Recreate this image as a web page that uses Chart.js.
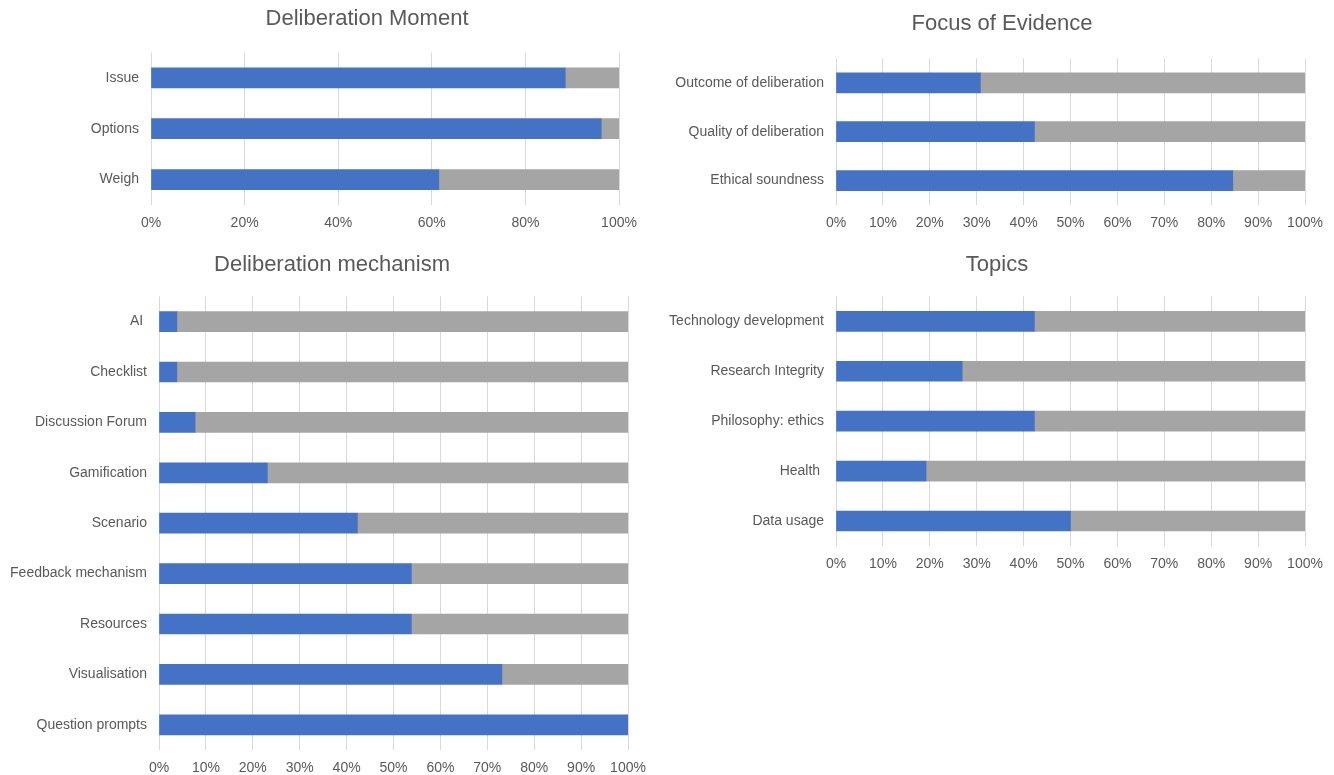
<!DOCTYPE html>
<html>
<head>
<meta charset="utf-8">
<title>Deliberation charts</title>
<script src="https://cdn.jsdelivr.net/npm/chart.js@4.4.1/dist/chart.umd.min.js"></script>
<style>
	body { margin: 0; background: #fff; width: 1334px; height: 775px; overflow: hidden; position: relative; }
	.chart-box { position: absolute; }
</style>
</head>
<body>
<div class="chart-box" style="left:0px; top:0px;"><canvas id="momentChart" width="660" height="240"></canvas></div>
<div class="chart-box" style="left:660px; top:0px;"><canvas id="evidenceChart" width="674" height="240"></canvas></div>
<div class="chart-box" style="left:0px; top:240px;"><canvas id="mechanismChart" width="660" height="535"></canvas></div>
<div class="chart-box" style="left:660px; top:240px;"><canvas id="topicsChart" width="674" height="340"></canvas></div>
<script>
// ================================ [ Data ] ================================

// Deliberation Moment
const momentLabels = ["Issue", "Options", "Weigh"];
const momentYes = [88.5, 96.2, 61.5];
const momentNo = [11.5, 3.8, 38.5];

// Focus of Evidence
const evidenceLabels = ["Outcome of deliberation", "Quality of deliberation", "Ethical soundness"];
const evidenceYes = [30.8, 42.3, 84.6];
const evidenceNo = [69.2, 57.7, 15.4];

// Deliberation mechanism
const mechanismLabels = ["AI ", "Checklist", "Discussion Forum", "Gamification", "Scenario",
	"Feedback mechanism", "Resources", "Visualisation", "Question prompts"];
const mechanismYes = [3.8, 3.8, 7.7, 23.1, 42.3, 53.8, 53.8, 73.1, 100];
const mechanismNo = [96.2, 96.2, 92.3, 76.9, 57.7, 46.2, 46.2, 26.9, 0];

// Topics
const topicsLabels = ["Technology development", "Research Integrity", "Philosophy: ethics", "Health ", "Data usage"];
const topicsYes = [42.3, 26.9, 42.3, 19.2, 50];
const topicsNo = [57.7, 73.1, 57.7, 80.8, 50];

// x axis tick steps (percent)
const momentStep = 20;
const otherStep = 10;

// ================================ [ Common ] ================================
const BLUE = "#4472C4";
const GREY = "#A5A5A5";
const TEXT = "#595959";
const FONT = "'Liberation Sans', Arial, Helvetica, sans-serif";

Chart.defaults.font.family = FONT;
Chart.defaults.color = TEXT;

// move the title centre to a given x (title is not centred on the canvas in the original)
const titleShift = {
	id: 'titleShift',
	afterLayout: (chart, args, opts) => {
		const t = chart.titleBlock;
		if(!t || opts.centerX === undefined) return;
		const w = t.right - t.left;
		t.left = opts.centerX - w / 2;
		t.right = opts.centerX + w / 2;
	}
};

// stacked horizontal percent bar
const getStackChart = (id, title, labels, yes, no, step, o) => {
	const el = document.getElementById(id);
	new Chart(el, {
		type: 'bar',
		data: {
			labels: labels,
			datasets: [
				{ label: 'Yes', data: yes, backgroundColor: BLUE, barThickness: 20, borderWidth: 0 },
				{ label: 'No', data: no, backgroundColor: GREY, barThickness: 20, borderWidth: 0 }
			]
		},
		options: {
			indexAxis: 'y',
			responsive: false,
			animation: false,
			devicePixelRatio: 1,
			layout: { padding: { left: 0, right: o.right, top: 0, bottom: o.bottom } },
			plugins: {
				legend: { display: false },
				tooltip: { enabled: false },
				title: {
					display: true,
					text: title,
					color: TEXT,
					font: { size: 22, weight: 'normal', family: FONT },
					padding: { top: o.titleTop, bottom: o.titleBottom }
				},
				titleShift: { centerX: o.titleX }
			},
			scales: {
				x: {
					stacked: true,
					min: 0,
					max: 100,
					grid: { color: '#D9D9D9', drawTicks: false },
					border: { display: false },
					ticks: {
						stepSize: step,
						padding: 10,
						color: TEXT,
						font: { size: 14 },
						callback: (v) => v + '%'
					},
					afterFit: (scale) => { scale.height = o.xHeight; }
				},
				y: {
					stacked: true,
					grid: { display: false, drawTicks: false },
					border: { display: false },
					ticks: { padding: 12, color: TEXT, font: { size: 14 } },
					afterFit: (scale) => { scale.width = o.axisWidth; }
				}
			}
		},
		plugins: [titleShift]
	});
}

getStackChart('momentChart', 'Deliberation Moment', momentLabels, momentYes, momentNo, momentStep,
	{ titleX: 367, axisWidth: 151, right: 41, bottom: 5, xHeight: 30, titleTop: 6, titleBottom: 20 });
getStackChart('evidenceChart', 'Focus of Evidence', evidenceLabels, evidenceYes, evidenceNo, otherStep,
	{ titleX: 342, axisWidth: 176, right: 29, bottom: 5, xHeight: 30, titleTop: 11, titleBottom: 21 });
getStackChart('mechanismChart', 'Deliberation mechanism', mechanismLabels, mechanismYes, mechanismNo, otherStep,
	{ titleX: 332, axisWidth: 159, right: 32, bottom: 0, xHeight: 25, titleTop: 12, titleBottom: 18 });
getStackChart('topicsChart', 'Topics', topicsLabels, topicsYes, topicsNo, otherStep,
	{ titleX: 337, axisWidth: 176, right: 29, bottom: 4, xHeight: 30, titleTop: 12, titleBottom: 18 });
</script>
</body>
</html>
